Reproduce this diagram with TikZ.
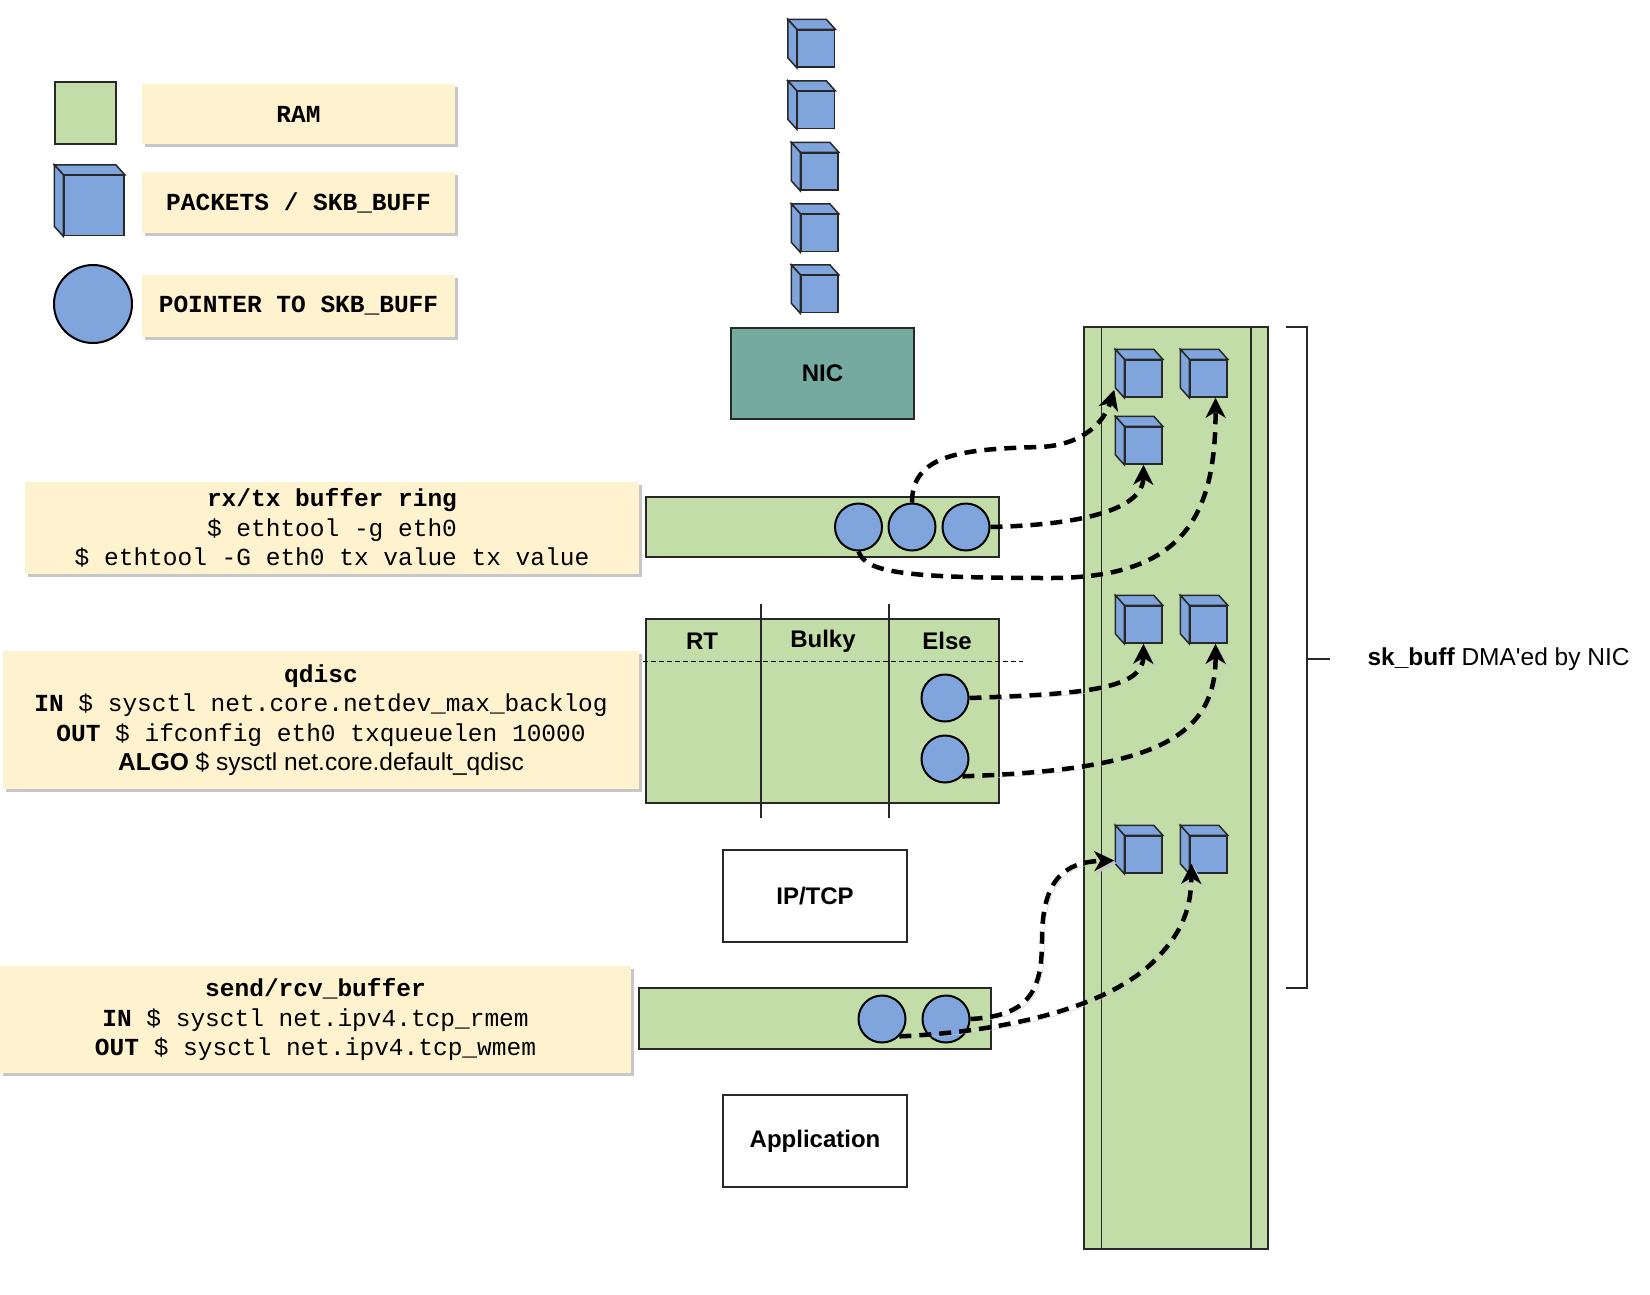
\documentclass[tikz,border=0pt]{standalone}
\usepackage{fontspec}
\setmainfont{Liberation Sans}[Ligatures=TeXOff]
\setmonofont{Liberation Mono}
\usetikzlibrary{arrows.meta,shadows}

% packet cube: name, x, y, size of front face
\newcommand{\pkt}[4]{%
  \node(#1) at (#2,#3) [pktbox, minimum size=#4pt] {};
  \draw[pktbox] (#1.north west) -- ([shift={(-9,-10)}]#1.north west)
    -- ([shift={(-9,-10)}]#1.north east) -- (#1.north east) -- cycle;
  \draw[pktbox] (#1.north west) -- ([shift={(-9,-10)}]#1.north west)
    -- ([shift={(-9,-10)}]#1.south west) -- (#1.south west) -- cycle;
}

\begin{document}
\begin{tikzpicture}[x=1pt,y=-1pt,
  ramcell/.style={rectangle, draw=edge, fill=ramfill, line width=1.5pt, inner sep=0pt},
  pktbox/.style={rectangle, draw=edge, fill=pktfill, line width=1.5pt, inner sep=0pt},
  ptr/.style={circle, draw=black, fill=pktfill, line width=2pt, inner sep=0pt, minimum size=47pt},
  lbl/.style={rectangle, fill=lblfill, inner sep=0pt, align=center,
    font=\ttfamily\fontsize{24.5}{29.5}\selectfont,
    drop shadow={shadow xshift=3pt, shadow yshift=-3pt, fill=black!22, opacity=1}},
  sbox/.style={rectangle, draw=edge, line width=1.5pt, inner sep=0pt,
    font=\bfseries\fontsize{24}{29}\selectfont},
  hdr/.style={font=\bfseries\fontsize{24}{29}\selectfont},
  flow/.style={draw=black, line width=4.5pt, dash pattern=on 12pt off 8pt,
    -{Stealth[length=20pt,width=20pt,inset=6pt]}},
  flowsh/.style={flow, preaction={draw=black!22, transform canvas={xshift=2.5pt,yshift=-2.5pt}}}]
%Define all colors here.
\definecolor{ramfill}{RGB}{194,221,168}
\definecolor{pktfill}{RGB}{127,165,220}
\definecolor{nicfill}{RGB}{117,170,159}
\definecolor{lblfill}{RGB}{255,242,206}
\definecolor{edge}{RGB}{40,40,40}

\useasboundingbox[fill=white] (0,0) rectangle (1650,1294);

% legend
\node(ramkey) at (85.5,113) [ramcell, minimum width=61pt, minimum height=62pt] {};
\node(ramlbl) at (298.5,114) [lbl, minimum width=313pt, minimum height=60pt] {\textbf{RAM}};
\pkt{pktkey}{94}{205.5}{60}
\node(pktlbl) at (298.5,202.5) [lbl, minimum width=313pt, minimum height=61pt] {\textbf{PACKETS / SKB\_BUFF}};
\node(ptrkey) at (93,304) [ptr, minimum size=78pt] {};
\node(ptrlbl) at (298.5,306) [lbl, minimum width=313pt, minimum height=62pt] {\textbf{POINTER TO SKB\_BUFF}};

% incoming packets
\pkt{pkt1}{816}{48.5}{37}
\pkt{pkt2}{816}{110}{37}
\pkt{pkt3}{819.5}{171.5}{37}
\pkt{pkt4}{819.5}{233}{37}
\pkt{pkt5}{819.5}{294}{37}
\node(nic) at (822.5,373.5) [sbox, fill=nicfill, minimum width=183pt, minimum height=91pt] {NIC};

% rx/tx ring
\node(rxlbl) at (332,528) [lbl, minimum width=614pt, minimum height=92pt]
  {\textbf{rx/tx buffer ring}\\ \$ ethtool -g eth0\\ \$ ethtool -G eth0 tx value tx value};
\node(rxbar) at (822.5,527) [ramcell, minimum width=353pt, minimum height=60pt] {};
\node(rxa) at (858.5,527) [ptr] {};
\node(rxb) at (912,527) [ptr] {};
\node(rxc) at (966,527) [ptr] {};

% qdisc
\node(qdlbl) at (321,720) [lbl, minimum width=636pt, minimum height=138pt]
  {\textbf{qdisc}\\ \textbf{IN} \$ sysctl net.core.netdev\_max\_backlog\\
   \textbf{OUT} \$ ifconfig eth0 txqueuelen 10000\\
   {\rmfamily\textbf{ALGO} \$ sysctl net.core.default\_qdisc}};
\node(qdbox) at (822.5,711) [ramcell, minimum width=353pt, minimum height=184pt] {};
\draw[line width=2pt, edge] (761,604) -- (761,818);
\draw[line width=2pt, edge] (889,604) -- (889,818);
\draw[line width=1pt, dash pattern=on 5pt off 3pt] (643,661) -- (1023,661);
\node(rt) at (702,641) [hdr] {RT};
\node(bulky) at (823,641) [hdr] {Bulky};
\node(else) at (947,641) [hdr] {Else};
\node(qa) at (945,698) [ptr] {};
\node(qb) at (945,759) [ptr] {};

\node(iptcp) at (815,896) [sbox, fill=white, minimum width=184pt, minimum height=92pt] {IP/TCP};

% socket buffer
\node(sklbl) at (315.5,1019.5) [lbl, minimum width=631pt, minimum height=107pt]
  {\textbf{send/rcv\_buffer}\\ \textbf{IN} \$ sysctl net.ipv4.tcp\_rmem\\ \textbf{OUT} \$ sysctl net.ipv4.tcp\_wmem};
\node(sndbar) at (815,1018.5) [ramcell, minimum width=352pt, minimum height=61pt] {};
\node(sa) at (882,1019) [ptr] {};
\node(sb) at (946,1019) [ptr] {};

\node(app) at (815,1141) [sbox, fill=white, minimum width=184pt, minimum height=92pt] {Application};

% sk_buff memory
\node(col) at (1176,788) [ramcell, minimum width=184pt, minimum height=922pt] {};
\draw[line width=1.5pt, edge] ([xshift=18pt]col.north west) -- ([xshift=18pt]col.south west);
\draw[line width=1.5pt, edge] ([xshift=-18pt]col.north east) -- ([xshift=-18pt]col.south east);
\pkt{pa}{1143.5}{378.5}{37}
\pkt{pb}{1208.5}{378.5}{37}
\pkt{pc}{1143.5}{445.5}{37}
\pkt{pd}{1143.5}{624.5}{37}
\pkt{pe}{1208.5}{624.5}{37}
\pkt{pf}{1143.5}{854.5}{37}
\pkt{pg}{1208.5}{854.5}{37}

\draw[line width=2.5pt, edge] (1286,327) -- (1307,327) -- (1307,988) -- (1286,988);
\draw[line width=2.5pt, edge] (1307,659) -- (1330,659);
\node(skbuff) at (1364,659) [anchor=west, font=\fontsize{24.5}{30}\selectfont] {\textbf{sk\_buff} DMA'ed by NIC};

\draw[flow] (rxb.north) .. controls (912,455) and (960,449) .. (1040,447)
  .. controls (1085,445) and (1105,420) .. ([xshift=-10pt,yshift=8pt]pa.south west);
\draw[flow] (rxc.east) .. controls (1080,525) and (1143,510) .. (pc.south);
\draw[flow] (rxa.south) .. controls (866,572) and (900,578) .. (1050,578)
  .. controls (1180,578) and (1216,520) .. ([xshift=7pt]pb.south);
\draw[flowsh] (qa.east) .. controls (1080,694) and (1143,690) .. (pd.south);
\draw[flowsh] (qb.south east) .. controls (1150,770) and (1216,740) .. ([xshift=7pt]pe.south);
\draw[flowsh] (sb.east) .. controls (1030,1016) and (1042,990) .. (1042,940)
  .. controls (1042,885) and (1060,862) .. ([xshift=-10pt,yshift=-6pt]pf.west);
\draw[flowsh] (sa.south east) .. controls (1000,1032) and (1100,1010) .. (1150,965)
  .. controls (1185,932) and (1191,905) .. ([xshift=-17pt,yshift=10pt]pg.south);
\end{tikzpicture}
\end{document}
